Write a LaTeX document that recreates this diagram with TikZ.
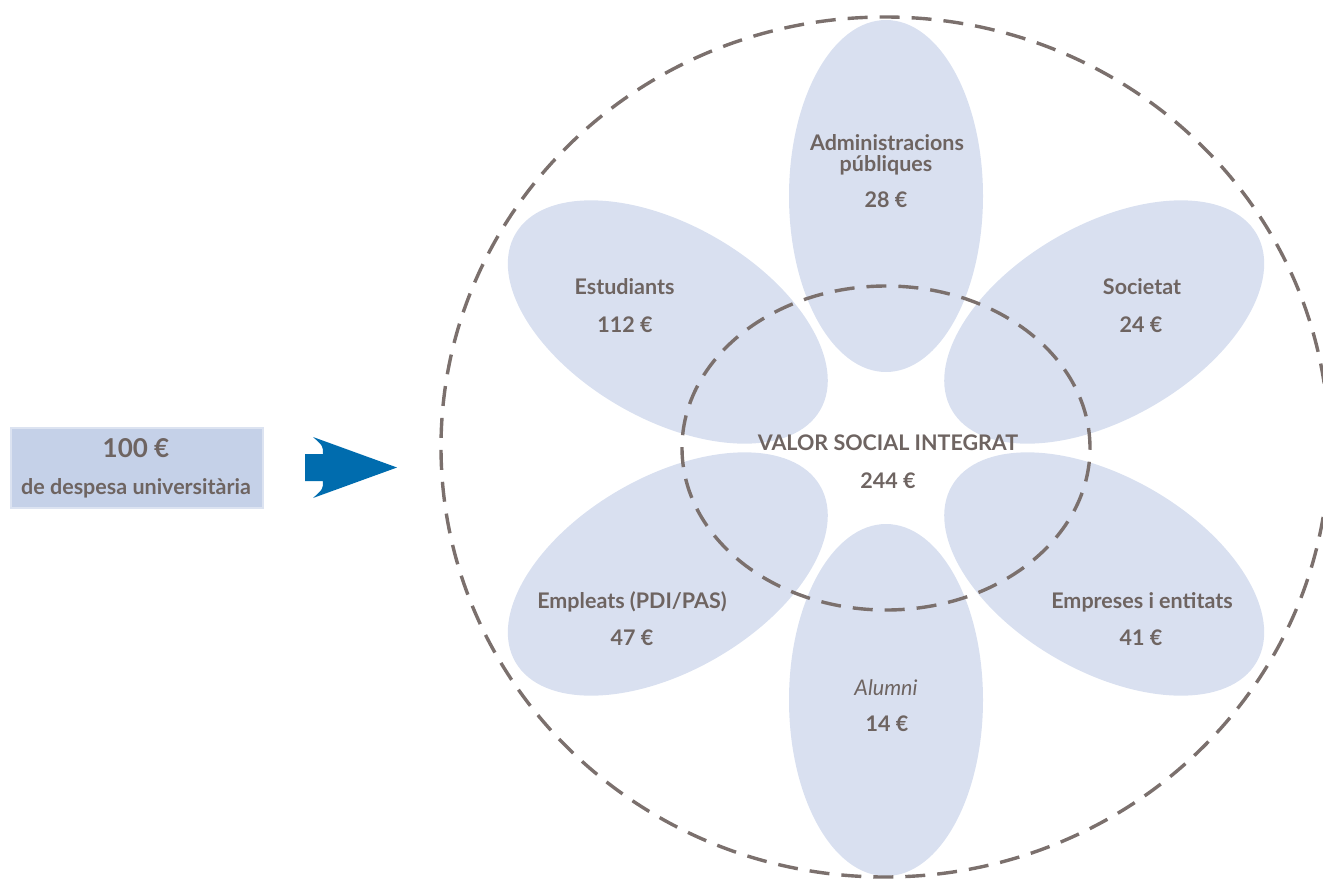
\documentclass[tikz,border=0pt]{standalone}
\usepackage{fontspec}
\setmainfont{Lato}
\usetikzlibrary{shapes.geometric}
\definecolor{txt}{HTML}{6E6461}
\definecolor{dash}{HTML}{7B706D}
\definecolor{petalc}{HTML}{D9E0F0}
\definecolor{boxc}{HTML}{C5D1E8}
\definecolor{boxb}{HTML}{DCE3F1}
\definecolor{arrowc}{HTML}{006CAE}
\tikzset{
  petal/.style={ellipse, fill=petalc, draw=none, minimum width=194pt, minimum height=352pt, inner sep=0},
  dashring/.style={ellipse, draw=dash, line width=3.4pt, dash pattern=on 20pt off 12pt, inner sep=0},
  lbl/.style={font=\fontsize{21.5}{24}\selectfont\bfseries, text=txt, anchor=base, inner sep=0},
  ilbl/.style={font=\fontsize{21.5}{24}\selectfont\itshape, text=txt, anchor=base, inner sep=0},
  biglbl/.style={font=\fontsize{26}{30}\selectfont\bfseries, text=txt, anchor=base, inner sep=0},
}
\begin{document}
\begin{tikzpicture}[x=1pt,y=-1pt]
\useasboundingbox (0,0) rectangle (1323,879);
% petals
\node[petal] (pTop) at (886,196) {};
\node[petal] (pBot) at (886,700) {};
\node[petal, rotate=60] (pUL) at (667.8,322) {};
\node[petal, rotate=-60] (pUR) at (1104.2,322) {};
\node[petal, rotate=-60] (pLL) at (667.8,574) {};
\node[petal, rotate=60] (pLR) at (1104.2,574) {};
% dashed rings
\node[dashring, minimum width=888pt, minimum height=860pt] (outer) at (885,447) {};
\node[dashring, minimum width=408pt, minimum height=324pt] (inner) at (886,448) {};
% texts
\node[lbl] (tAdm1) at (887,150) {Administracions};
\node[lbl] (tAdm2) at (886,171) {públiques};
\node[lbl] (tAdm3) at (886,207) {28 €};
\node[lbl] (tEst1) at (624.5,294) {Estudiants};
\node[lbl] (tEst2) at (625,332) {112 €};
\node[lbl] (tSoc1) at (1142,294) {Societat};
\node[lbl] (tSoc2) at (1141,332) {24 €};
\node[lbl] (tVal1) at (888,450) {VALOR SOCIAL INTEGRAT};
\node[lbl] (tVal2) at (888,488) {244 €};
\node[lbl] (tEmp1) at (632,608) {Empleats (PDI/PAS)};
\node[lbl] (tEmp2) at (632,645) {47 €};
\node[lbl] (tEnt1) at (1142,608) {Empreses i entitats};
\node[lbl] (tEnt2) at (1141,645) {41 €};
\node[ilbl] (tAlu1) at (886,695) {Alumni};
\node[lbl] (tAlu2) at (887,731) {14 €};
% left box
\node[rectangle, fill=boxc, draw=boxb, line width=2.5pt, minimum width=252pt, minimum height=80pt, inner sep=0] (box) at (137,468) {};
\node[biglbl] (tBox1) at (136,457) {100 €};
\node[lbl] (tBox2) at (136,494) {de despesa universitària};
% arrow
\fill[arrowc] (305,454) -- (323,454) .. controls (323,446) .. (313,437) -- (397,467.5) -- (313,498) .. controls (323,489) .. (323,481) -- (305,481) -- cycle;
\end{tikzpicture}
\end{document}
